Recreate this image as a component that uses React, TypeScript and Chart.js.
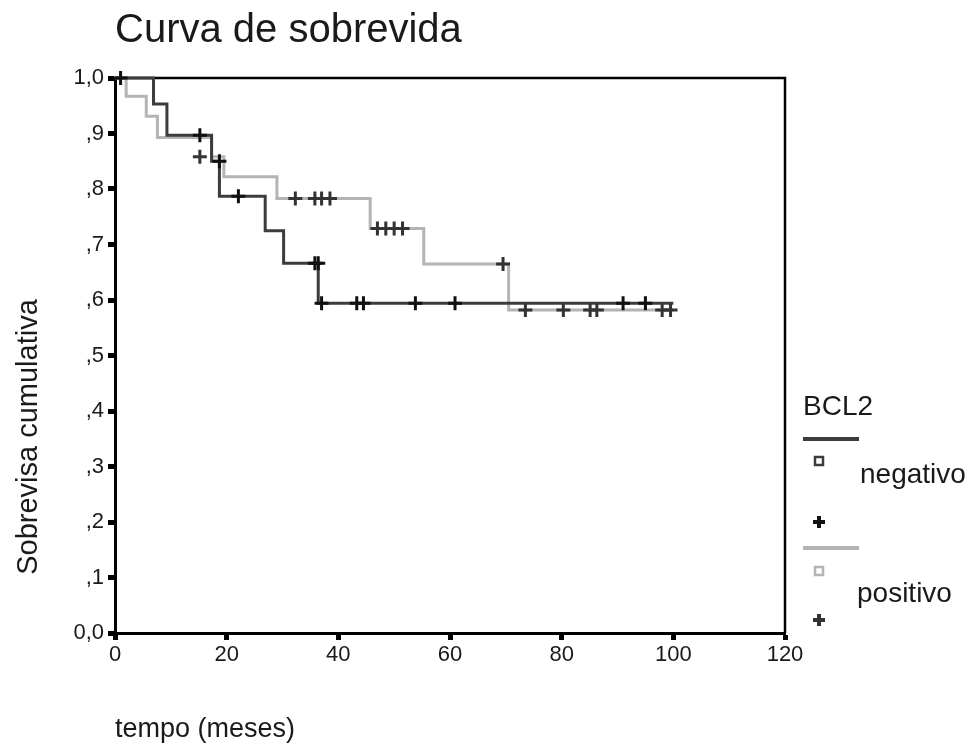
import { useEffect, useRef } from "react";
import { Chart, registerables } from "chart.js";

Chart.register(...registerables);

// Kaplan-Meier step data (time in months, cumulative survival)
const negTimes = [0, 6.9, 9.3, 17.3, 18.7, 26.9, 30.2, 36.4, 100];
const negSurv = [1.0, 0.953, 0.897, 0.85, 0.787, 0.725, 0.666, 0.594, 0.594];
const posTimes = [0, 2.0, 5.6, 7.6, 17.3, 19.5, 29.0, 45.7, 55.3, 70.5, 100];
const posSurv = [1.0, 0.967, 0.931, 0.893, 0.858, 0.822, 0.783, 0.729, 0.665, 0.582, 0.582];

// Censored observations
const negCensorT = [1.0, 15.2, 18.7, 22.1, 35.8, 36.4, 37.0, 43.3, 44.5, 53.8, 60.9, 91.0, 95.0];
const negCensorS = [1.0, 0.897, 0.85, 0.787, 0.666, 0.666, 0.594, 0.594, 0.594, 0.594, 0.594, 0.594, 0.594];
const posCensorT = [15.2, 32.3, 35.8, 37.0, 38.5, 47.0, 48.5, 50.0, 51.5, 69.5, 73.5, 80.3, 85.1, 86.3, 98.0, 99.5];
const posCensorS = [0.858, 0.783, 0.783, 0.783, 0.783, 0.729, 0.729, 0.729, 0.729, 0.665, 0.582, 0.582, 0.582, 0.582, 0.582, 0.582];

const xTicks = [0, 20, 40, 60, 80, 100, 120];
const yTickLabels = ["0,0", ",1", ",2", ",3", ",4", ",5", ",6", ",7", ",8", ",9", "1,0"];

const titleText = "Curva de sobrevida";
const xTitle = "tempo (meses)";
const yTitle = "Sobrevisa cumulativa";
const legendTitle = "BCL2";
const groupNames = ["negativo", "positivo"];

const FONT = "'Liberation Sans', Arial, sans-serif";
const DARK = "#3c3c3c";
const LIGHT = "#b4b4b4";

const zip = (t: number[], s: number[]) => t.map((x, i) => ({ x, y: s[i] }));

export default function App() {
  const ref = useRef<HTMLCanvasElement | null>(null);

  useEffect(() => {
    if (!ref.current) return;

    const decor = {
      id: "decor",
      beforeDatasetsDraw(chart: any) {
        const { ctx, chartArea: a } = chart;
        ctx.save();
        ctx.strokeStyle = "#000";
        ctx.lineWidth = 2.5;
        ctx.beginPath();
        ctx.moveTo(a.left, a.top);
        ctx.lineTo(a.right, a.top);
        ctx.lineTo(a.right, a.bottom);
        ctx.stroke();
        ctx.restore();
      },
      afterDraw(chart: any) {
        const { ctx } = chart;
        ctx.save();
        ctx.fillStyle = "#1a1a1a";
        ctx.textBaseline = "alphabetic";
        ctx.textAlign = "left";
        ctx.font = `40px ${FONT}`;
        ctx.fillText(titleText, 115, 42);
        ctx.font = `27px ${FONT}`;
        ctx.fillText(xTitle, 115, 737);
        ctx.save();
        ctx.translate(37, 437);
        ctx.rotate(-Math.PI / 2);
        ctx.textAlign = "center";
        ctx.font = `29px ${FONT}`;
        ctx.fillText(yTitle, 0, 0);
        ctx.restore();

        // legend
        ctx.font = `28px ${FONT}`;
        ctx.fillText(legendTitle, 803, 415);
        const drawGroup = (lineY: number, col: string, crossCol: string, label: string, labelX: number, baseY: number, sqY: number, crossY: number) => {
          ctx.strokeStyle = col;
          ctx.lineWidth = 4;
          ctx.beginPath();
          ctx.moveTo(803, lineY);
          ctx.lineTo(859, lineY);
          ctx.stroke();
          ctx.lineWidth = 2.5;
          ctx.strokeRect(815, sqY - 4, 8, 8);
          ctx.fillStyle = "#1a1a1a";
          ctx.fillText(label, labelX, baseY);
          ctx.strokeStyle = crossCol;
          ctx.lineWidth = 4;
          ctx.beginPath();
          ctx.moveTo(813, crossY);
          ctx.lineTo(825, crossY);
          ctx.moveTo(819, crossY - 6);
          ctx.lineTo(819, crossY + 6);
          ctx.stroke();
        };
        drawGroup(439, DARK, "#111", groupNames[0], 860, 483, 461, 522);
        drawGroup(548, LIGHT, "#333", groupNames[1], 857, 602, 571, 620);
        ctx.restore();
      },
    };

    const chart = new Chart(ref.current, {
      type: "line",
      data: {
        datasets: [
          {
            type: "scatter",
            data: zip(negCensorT, negCensorS),
            pointStyle: "cross",
            pointRadius: 7,
            borderWidth: 3,
            borderColor: "#111",
            backgroundColor: "#111",
            showLine: false,
            order: 0,
            clip: false,
          } as any,
          {
            type: "scatter",
            data: zip(posCensorT, posCensorS),
            pointStyle: "cross",
            pointRadius: 7,
            borderWidth: 3,
            borderColor: "#333",
            backgroundColor: "#333",
            showLine: false,
            order: 0,
            clip: false,
          } as any,
          {
            type: "line",
            data: zip(negTimes, negSurv),
            stepped: "before",
            borderColor: DARK,
            borderWidth: 3,
            pointRadius: 0,
            fill: false,
            order: 1,
            clip: false,
          } as any,
          {
            type: "line",
            data: zip(posTimes, posSurv),
            stepped: "before",
            borderColor: LIGHT,
            borderWidth: 3,
            pointRadius: 0,
            fill: false,
            order: 2,
            clip: false,
          } as any,
        ],
      },
      options: {
        animation: false,
        responsive: false,
        layout: { padding: { left: 0, top: 78, right: 194, bottom: 74 } },
        plugins: { legend: { display: false }, tooltip: { enabled: false }, title: { display: false } },
        scales: {
          x: {
            type: "linear",
            min: 0,
            max: 120,
            afterBuildTicks: (scale: any) => {
              scale.ticks = xTicks.map((v) => ({ value: v }));
            },
            afterFit: (scale: any) => {
              scale.height = 40;
            },
            ticks: {
              color: "#1a1a1a",
              font: { family: FONT, size: 22 },
              padding: 2,
              maxRotation: 0,
              callback: (v: any) => String(v),
            },
            grid: { drawOnChartArea: false, drawTicks: true, tickLength: 7, tickWidth: 5, tickColor: "#000" },
            border: { display: true, width: 3, color: "#000" },
          },
          y: {
            type: "linear",
            min: 0,
            max: 1,
            afterBuildTicks: (scale: any) => {
              scale.ticks = yTickLabels.map((_, i) => ({ value: i / 10 }));
            },
            afterFit: (scale: any) => {
              scale.width = 115;
            },
            ticks: {
              color: "#1a1a1a",
              font: { family: FONT, size: 22 },
              padding: 4,
              callback: (v: any) => yTickLabels[Math.round(Number(v) * 10)],
            },
            grid: { drawOnChartArea: false, drawTicks: true, tickLength: 7, tickWidth: 5, tickColor: "#000" },
            border: { display: true, width: 3, color: "#000" },
          },
        },
      },
      plugins: [decor],
    });

    return () => chart.destroy();
  }, []);

  return (
    <div style={{ position: "absolute", left: 0, top: 0, width: 979, height: 747, background: "#fff" }}>
      <canvas ref={ref} width={979} height={747} />
    </div>
  );
}
